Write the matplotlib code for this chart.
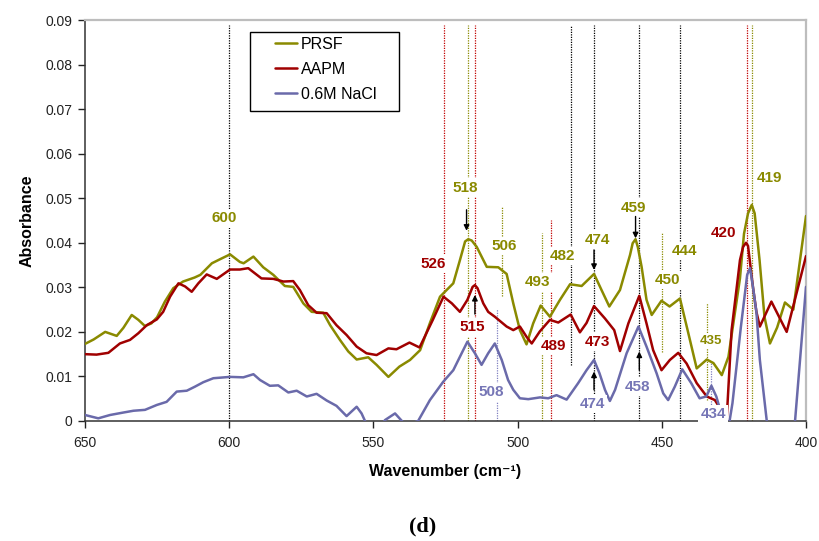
import matplotlib
matplotlib.use("Agg")
import matplotlib.pyplot as plt
from matplotlib.patches import Rectangle

plt.rcParams['font.family'] = ['Liberation Sans', 'DejaVu Sans']

# ---------------- data ----------------
prsf_wn = [650, 647, 643, 639, 636.7, 633.8, 631.5, 629.2, 627, 625, 622.3, 619.4, 616, 612, 610,
           606, 603.2, 599.7, 596.3, 595, 591.6, 588.2, 584.7, 580.7, 577.8, 574.3, 571.4, 567.4,
           565, 561.6, 558.7, 555.8, 551.8, 548.9, 544.8, 541, 537.3, 533.8, 530.4, 526.9, 522.3,
           520, 518.2, 517.1, 515.9, 514.2, 510.7, 506.7, 503.8, 501.5, 499.2, 496.9, 494.6, 492,
           488.8, 485.3, 481.8, 477.8, 473.5, 470.9, 468.2, 464.5, 461, 460.1, 459.1, 458.3, 457,
           455.3, 453.5, 450.1, 447.3, 443.7, 440.8, 437.9, 434.4, 432.1, 429.2, 426.9, 422.9,
           421.5, 420.1, 418.8, 417.8, 416.1, 414.4, 412.5, 410, 407.3, 404.4, 400]
prsf_abs = [0.0173, 0.0183, 0.0200, 0.0191, 0.0209, 0.0238, 0.0227, 0.0213, 0.0219, 0.0233, 0.0268,
            0.0298, 0.0313, 0.0322, 0.0328, 0.0354, 0.0363, 0.0374, 0.0357, 0.0354, 0.0369, 0.0345,
            0.0328, 0.0303, 0.0301, 0.0264, 0.0245, 0.0243, 0.0215, 0.0182, 0.0156, 0.0138, 0.0143,
            0.0126, 0.0099, 0.0122, 0.0137, 0.0159, 0.0220, 0.0279, 0.0309, 0.0361, 0.0403, 0.0408,
            0.0405, 0.0391, 0.0346, 0.0345, 0.0330, 0.0264, 0.0204, 0.0172, 0.0219, 0.0259, 0.0234,
            0.0272, 0.0307, 0.0303, 0.0330, 0.0294, 0.0257, 0.0294, 0.0373, 0.0399, 0.0408, 0.0390,
            0.0346, 0.0272, 0.0238, 0.0270, 0.0257, 0.0275, 0.0197, 0.0118, 0.0138, 0.0130, 0.0103,
            0.0144, 0.0320, 0.0420, 0.0466, 0.0485, 0.0466, 0.0361, 0.0234, 0.0174, 0.0210, 0.0266,
            0.0250, 0.0460]

aapm_wn = [650, 646, 641.9, 637.9, 634.4, 631.5, 628.6, 625.1, 622.9, 620.5, 617.6, 615.3, 613,
           610.7, 607.8, 604.3, 599.7, 596.3, 593.4, 588.8, 584.7, 581.2, 577.8, 575.5, 572.6,
           569.7, 566.2, 562.8, 559.3, 555.8, 552.4, 548.9, 544.8, 542, 537.5, 534, 529.4, 525.7,
           522.8, 520, 517.4, 515.6, 514.8, 513.9, 511.9, 510.2, 507.9, 503.8, 501.5, 499.2, 496.9,
           495.1, 492.3, 488.8, 485.9, 481.6, 478.4, 476.1, 473.5, 469.7, 466.5, 464.5, 461.6,
           457.8, 455.3, 453, 450.1, 447.2, 444.3, 441.4, 437.9, 434.4, 431.6, 427.5, 425.8, 424,
           422.9, 421.8, 420.8, 420.1, 418.4, 417.2, 416, 412, 406.7, 400]
aapm_abs = [0.0150, 0.0149, 0.0153, 0.0174, 0.0182, 0.0197, 0.0215, 0.0228, 0.0245, 0.0279, 0.0309,
            0.0302, 0.0290, 0.0309, 0.0329, 0.0319, 0.0340, 0.0340, 0.0343, 0.0320, 0.0319, 0.0313,
            0.0314, 0.0294, 0.0260, 0.0243, 0.0242, 0.0215, 0.0193, 0.0167, 0.0152, 0.0148, 0.0163,
            0.0161, 0.0176, 0.0165, 0.0227, 0.0279, 0.0264, 0.0245, 0.0272, 0.0301, 0.0305, 0.0298,
            0.0264, 0.0245, 0.0234, 0.0212, 0.0204, 0.0212, 0.0189, 0.0174, 0.0201, 0.0227, 0.0221,
            0.0239, 0.0199, 0.0220, 0.0258, 0.0230, 0.0204, 0.0157, 0.0219, 0.0281, 0.0219, 0.0159,
            0.0114, 0.0137, 0.0153, 0.0129, 0.0085, 0.0055, 0.0047, 0.0005, 0.0204, 0.0301, 0.0361,
            0.0391, 0.0400, 0.0393, 0.0301, 0.0245, 0.0212, 0.0268, 0.0200, 0.0370]

nacl_wn = [650, 645.4, 641.3, 636.7, 633.2, 629.2, 625.1, 621.7, 618.2, 614.7, 611.9, 609, 605.5,
           599.7, 595.1, 591.6, 589.3, 585.9, 583, 579.5, 576.6, 573.1, 569.7, 566.2, 562.8, 559.3,
           555.8, 554.1, 551.5, 549, 546, 542.5, 538.7, 534.5, 530.4, 525.8, 522.3, 519.4, 517.4,
           514.8, 512.5, 510.2, 507.9, 505.5, 503.3, 501.5, 499.2, 496.3, 492.2, 489.4, 486.5,
           483, 479, 476.1, 473.5, 471.6, 469.7, 468, 466.2, 462.2, 458.1, 455.3, 451.8, 449.5,
           447.8, 445.5, 442.9, 439.8, 436.9, 434.6, 432.8, 431.1, 429.4, 427.5, 425.5, 422.6,
           420.4, 419.4, 418.4, 417.2, 416, 413.6, 411, 406, 403.8, 400]
nacl_abs = [0.00135, 0.0006, 0.00135, 0.0019, 0.0023, 0.0025, 0.0036, 0.0043, 0.0066, 0.0068, 0.0077,
            0.0087, 0.0096, 0.0099, 0.0098, 0.0105, 0.0092, 0.0079, 0.0080, 0.0064, 0.0068, 0.0055,
            0.0061, 0.0046, 0.0034, 0.0011, 0.0032, 0.0017, -0.0020, -0.0030, 0.0002, 0.0017,
            -0.0010, 0.0000, 0.0047, 0.0088, 0.0114, 0.0152, 0.0178, 0.0152, 0.0126, 0.0152, 0.0174,
            0.0137, 0.0092, 0.0070, 0.0051, 0.0049, 0.0053, 0.0051, 0.0058, 0.0048, 0.0085, 0.0114,
            0.0137, 0.0107, 0.0070, 0.0045, 0.0070, 0.0152, 0.0212, 0.0167, 0.0107, 0.0062, 0.0047,
            0.0077, 0.0116, 0.0085, 0.0051, 0.0055, 0.0079, 0.0055, 0.0017, -0.0040, 0.0040, 0.0210,
            0.0328, 0.0343, 0.0301, 0.0245, 0.0137, 0.0000, -0.0080, -0.0080, 0.0000, 0.0301]

series_names = ['PRSF', 'AAPM', '0.6M NaCl']

x_ticks = [650, 600, 550, 500, 450, 400]
x_tick_labels = ['650', '600', '550', '500', '450', '400']
y_ticks = [0, 0.01, 0.02, 0.03, 0.04, 0.05, 0.06, 0.07, 0.08, 0.09]
y_tick_labels = ['0', '0.01', '0.02', '0.03', '0.04', '0.05', '0.06', '0.07', '0.08', '0.09']

# marker lines: (wavenumber, series key, ymin, ymax)
marker_lines = [
    (600.0, 'k', 0.0, 0.0888), (525.4, 'r', 0.0, 0.0888), (517.2, 'o', 0.0, 0.0888),
    (514.7, 'r', 0.0, 0.0888), (505.5, 'o', 0.0281, 0.0483), (507.0, 'b', 0.0, 0.0251),
    (491.5, 'o', 0.0, 0.0422), (488.5, 'r', 0.0, 0.0451), (481.6, 'k', 0.0126, 0.0888),
    (473.4, 'k', 0.0, 0.0888), (457.8, 'k', 0.0, 0.0888), (450.1, 'o', 0.0155, 0.0422),
    (443.7, 'k', 0.0, 0.0888), (434.4, 'o', 0.0047, 0.0265), (432.8, 'b', 0.0031, 0.0137),
    (420.6, 'r', 0.0, 0.0888), (418.6, 'o', 0.0, 0.0888),
]

# peak labels: (text, series key, x, y, fontsize)
peak_labels = [
    ('600', 'o', 601.7, 0.0455, 11), ('526', 'r', 529.2, 0.0352, 11), ('518', 'o', 518.1, 0.0524, 11),
    ('506', 'o', 504.8, 0.0393, 11), ('515', 'r', 515.8, 0.0210, 11), ('508', 'b', 509.2, 0.0064, 11),
    ('493', 'o', 493.0, 0.0311, 11), ('482', 'o', 484.3, 0.0370, 11), ('474', 'o', 472.2, 0.0407, 11),
    ('489', 'r', 487.5, 0.0168, 11), ('473', 'r', 472.2, 0.0178, 11), ('474', 'b', 474.1, 0.0038, 11),
    ('459', 'o', 459.7, 0.0479, 11), ('458', 'b', 458.3, 0.0077, 11), ('450', 'o', 448.0, 0.0316, 11),
    ('444', 'o', 442.1, 0.0382, 11), ('435', 'o', 432.8, 0.0180, 9.5), ('434', 'b', 432.1, 0.0015, 11),
    ('420', 'r', 428.6, 0.0421, 11), ('419', 'o', 412.8, 0.0546, 11),
]

# arrows: (x, y_tail, y_head)
arrows = [
    (517.7, 0.0474, 0.0427), (514.8, 0.0240, 0.0283), (473.5, 0.0384, 0.0339),
    (473.5, 0.0070, 0.0111), (459.1, 0.0459, 0.0410), (457.8, 0.0114, 0.0156),
]

# ---------------- style ----------------
OLIVE = '#8A8A00'
RED = '#A00000'
BLUE = '#6A6AAA'
line_col = {'o': OLIVE, 'r': '#C00000', 'b': '#8080C0', 'k': 'black'}
text_col = {'o': '#8A8A00', 'r': '#A00000', 'b': '#7676B6'}

fig = plt.figure(figsize=(8.19, 5.41), dpi=100)
ax = fig.add_axes([85 / 819, 120 / 541, 721 / 819, 401 / 541])

kw = dict(lw=1.8, zorder=3, solid_joinstyle='round', solid_capstyle='round')
l1, = ax.plot(prsf_wn, prsf_abs, color=OLIVE, label=series_names[0], **kw)
l2, = ax.plot(aapm_wn, aapm_abs, color=RED, label=series_names[1], **kw)
l3, = ax.plot(nacl_wn, nacl_abs, color=BLUE, label=series_names[2], **kw)

for x, key, y0, y1 in marker_lines:
    ax.vlines(x, y0, y1, colors=line_col[key], linestyles=(0, (1, 1.0)), lw=0.9, zorder=2)

for txt, key, x, y, fs in peak_labels:
    ax.text(x, y, txt, color=text_col[key], fontsize=fs, fontweight='bold',
            ha='center', va='center', zorder=5, clip_on=False,
            bbox=dict(boxstyle='square,pad=0.15', facecolor='white', edgecolor='none'))

for x, yt, yh in arrows:
    ax.annotate('', xy=(x, yh), xytext=(x, yt), zorder=6,
                arrowprops=dict(arrowstyle='-|>', color='black', lw=1.0,
                                mutation_scale=8, shrinkA=0, shrinkB=0))

ax.set_xlim(650, 400)
ax.set_ylim(0, 0.09)
ax.set_xticks(x_ticks)
ax.set_xticklabels(x_tick_labels)
ax.set_yticks(y_ticks)
ax.set_yticklabels(y_tick_labels)
ax.tick_params(axis='both', direction='out', length=5, width=1, labelsize=10,
               colors='#222222', pad=4)
ax.tick_params(axis='x', pad=6)

for s in ['top', 'right']:
    ax.spines[s].set_color('#BDBDBD')
    ax.spines[s].set_linewidth(1.6)
for s in ['left', 'bottom']:
    ax.spines[s].set_color('#333333')
    ax.spines[s].set_linewidth(1.1)

ax.set_xlabel('Wavenumber (cm\u207b\u00b9)', fontsize=11.5, fontweight='bold', labelpad=10)
ax.set_ylabel('Absorbance', fontsize=11.5, fontweight='bold', labelpad=8)

# legend: content without frame, plus a drawn frame box
leg = ax.legend(handles=[l1, l2, l3], loc='upper left', bbox_to_anchor=(0.2635, 0.958),
                borderaxespad=0, frameon=False, fontsize=11.5, handlelength=1.4,
                handletextpad=0.2, labelspacing=0.62, borderpad=0)
leg.set_zorder(7)
ax.add_patch(Rectangle((0.229, 0.773), 0.2065, 0.197, transform=ax.transAxes,
                       facecolor='white', edgecolor='black', lw=1.0, zorder=6.5))

fig.text(423 / 819, 1 - 526 / 541, '(d)', fontsize=16, fontweight='bold',
         family=['Liberation Serif', 'DejaVu Serif'], ha='center', va='center')

fig.savefig('out.png', dpi=100)
